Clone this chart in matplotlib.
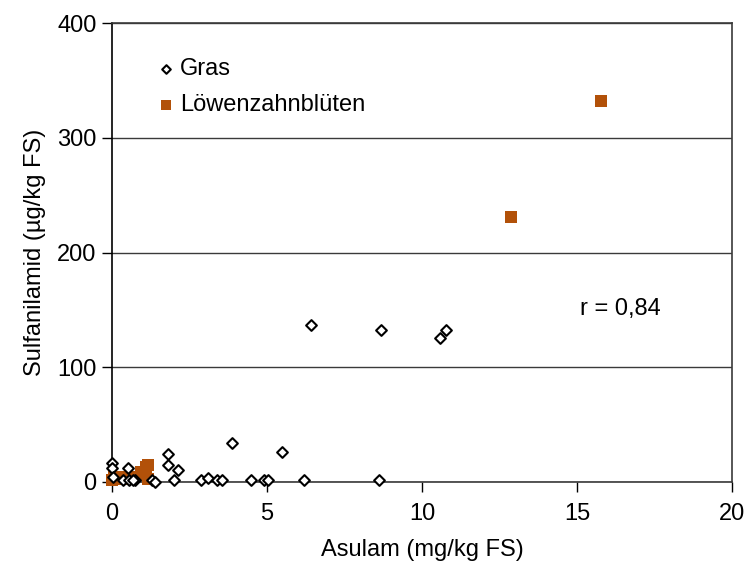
import matplotlib
matplotlib.use("Agg")
import matplotlib.pyplot as plt

plt.rcParams['font.family'] = ['Liberation Sans', 'DejaVu Sans']

# Gras: Asulam (mg/kg FS) vs Sulfanilamid (µg/kg FS)
gras_x = [0.01, 0.0, 0.04, 0.5, 0.36, 0.56, 0.74, 0.69, 1.3, 1.39, 1.8, 1.8, 2.12, 2.0,
          2.87, 3.1, 3.4, 3.56, 3.86, 4.48, 4.9, 5.02, 5.47, 6.2, 8.6,
          6.42, 8.68, 10.58, 10.77]
gras_y = [16.3, 12, 4.6, 12, 2, 2, 2, 2, 2, 0, 24.4, 14.8, 10.5, 2,
          2, 3.2, 2, 2, 34.3, 2, 2, 2, 25.8, 2, 2,
          136.8, 132.5, 125.5, 132.5]

# Löwenzahnblüten
lz_x = [0.0, 0.05, 0.15, 0.3, 0.45, 0.6, 0.95, 1.0, 1.1, 1.15, 1.17, 12.87, 15.77]
lz_y = [2, 4, 3, 4, 3, 4, 9, 6, 13, 15, 3, 231, 332]

x_ticks = [0, 5, 10, 15, 20]
y_ticks = [0, 100, 200, 300, 400]

fig = plt.figure(figsize=(7.44, 5.64), dpi=100)
ax = fig.add_axes([112/744, 1-482/564, 620/744, 459/564])

ax.scatter(lz_x, lz_y, marker='s', s=69, color='#B25109', linewidths=0,
           label='Löwenzahnblüten', zorder=3, clip_on=False)
ax.scatter(gras_x, gras_y, marker='D', s=30, facecolor='white', edgecolor='black',
           linewidths=1.5, label='Gras', zorder=4, clip_on=False)

ax.set_xlim(0, 20)
ax.set_ylim(0, 400)
ax.set_xticks(x_ticks)
ax.set_yticks(y_ticks)
ax.tick_params(direction='out', length=7, width=1, labelsize=17, colors='black', pad=4)
ax.tick_params(axis='x', pad=8)
ax.grid(True, axis='y', color='#3a3a3a', linewidth=1)
ax.set_axisbelow(True)
for s in ax.spines.values():
    s.set_color('#3a3a3a')
    s.set_linewidth(1.2)
ax.spines['left'].set_color('black')

ax.set_xlabel('Asulam (mg/kg FS)', fontsize=17, labelpad=10)
ax.set_ylabel('Sulfanilamid (µg/kg FS)', fontsize=17, labelpad=8)

ax.text(16.4, 151, 'r = 0,84', fontsize=17, ha='center', va='center')

handles, labels = ax.get_legend_handles_labels()
ax.legend(handles[::-1], labels[::-1], loc='upper left', bbox_to_anchor=(0.055, 0.944),
          borderaxespad=0, frameon=False, fontsize=17, handletextpad=0.15,
          labelspacing=0.6, handlelength=0.9, markerscale=0.8)

fig.savefig('out.png', dpi=100)
